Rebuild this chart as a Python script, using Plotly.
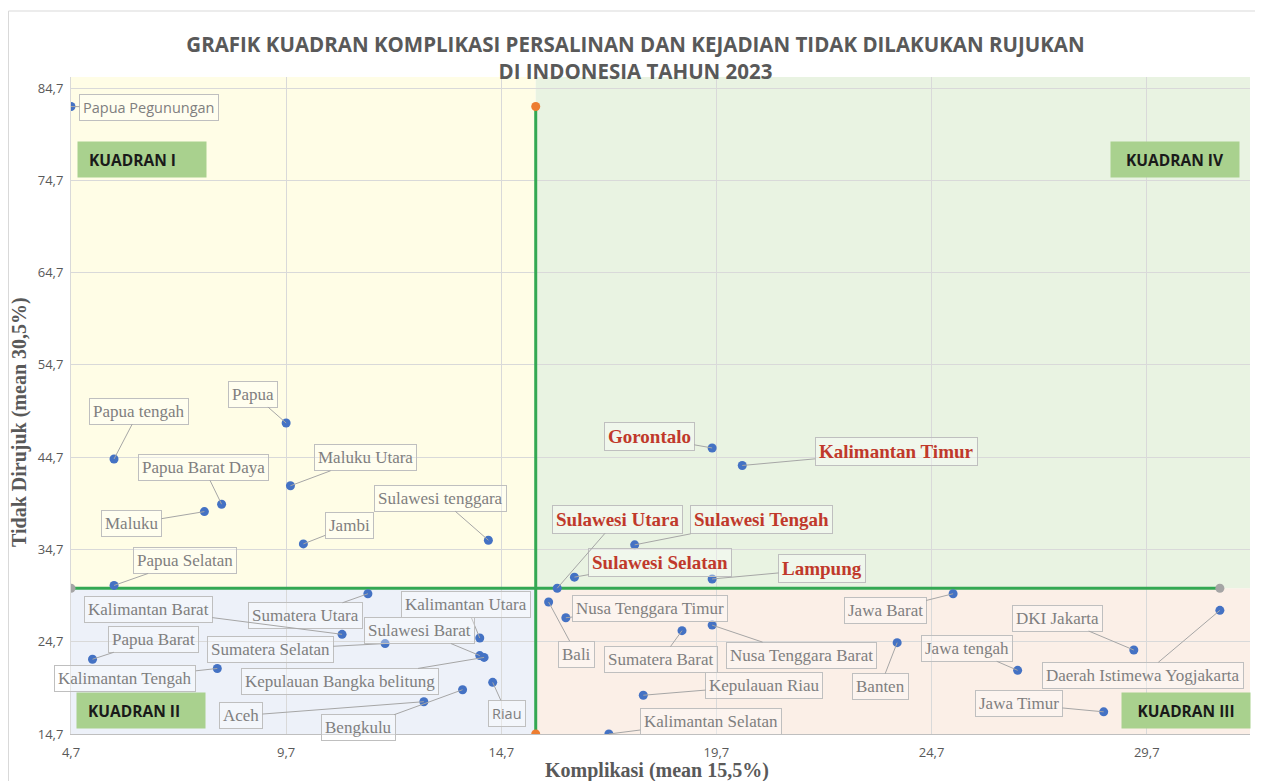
import plotly.graph_objects as go

# ---------------- data ----------------
provinsi = [
    "Papua Pegunungan", "Papua tengah", "Papua", "Maluku Utara", "Papua Barat Daya",
    "Maluku", "Jambi", "Sulawesi tenggara", "Papua Selatan", "Sumatera Utara",
    "Kalimantan Barat", "Sumatera Selatan", "Kalimantan Utara", "Sulawesi Barat",
    "Kepulauan Bangka belitung", "Riau", "Bengkulu", "Aceh", "Papua Barat",
    "Kalimantan Tengah", "Gorontalo", "Kalimantan Timur", "Sulawesi Tengah",
    "Sulawesi Selatan", "Lampung", "Sulawesi Utara", "Bali", "Nusa Tenggara Timur",
    "Sumatera Barat", "Nusa Tenggara Barat", "Jawa Barat", "Banten", "Kepulauan Riau",
    "Kalimantan Selatan", "Jawa tengah", "DKI Jakarta", "Daerah Istimewa Yogjakarta",
    "Jawa Timur",
]
komplikasi = [
    4.7, 5.7, 9.7, 9.8, 8.2,
    7.8, 10.1, 14.4, 5.7, 11.6,
    11.0, 12.0, 14.2, 14.2,
    14.3, 14.5, 13.8, 12.9, 5.2,
    8.1, 19.6, 20.3, 17.8,
    16.4, 19.6, 16.0, 15.8, 16.2,
    18.9, 19.6, 25.2, 23.9, 18.0,
    17.2, 26.7, 29.4, 31.4,
    28.7,
]
tidak_dirujuk = [
    82.7, 44.5, 48.4, 41.6, 39.6,
    38.8, 35.3, 35.7, 30.8, 29.9,
    25.5, 24.5, 25.1, 23.2,
    23.0, 20.3, 19.5, 18.2, 22.8,
    21.8, 45.7, 43.8, 35.2,
    31.7, 31.5, 30.5, 29.0, 27.3,
    25.9, 26.5, 29.9, 24.6, 18.9,
    14.7, 21.6, 23.8, 28.1,
    17.1,
]
mean_komplikasi = 15.5
mean_tidak_dirujuk = 30.5

x_ticks = [4.7, 9.7, 14.7, 19.7, 24.7, 29.7]
y_ticks = [14.7, 24.7, 34.7, 44.7, 54.7, 64.7, 74.7, 84.7]
x_ticklabels = ["4,7", "9,7", "14,7", "19,7", "24,7", "29,7"]
y_ticklabels = ["14,7", "24,7", "34,7", "44,7", "54,7", "64,7", "74,7", "84,7"]

title_text = ("GRAFIK KUADRAN KOMPLIKASI PERSALINAN DAN KEJADIAN TIDAK DILAKUKAN RUJUKAN"
              "<br>DI INDONESIA TAHUN 2023")
x_title = "Komplikasi (mean 15,5%)"
y_title = "Tidak Dirujuk (mean 30,5%)"
kuadran_names = ["KUADRAN I", "KUADRAN II", "KUADRAN III", "KUADRAN IV"]

# ---------------- layout helpers (label offsets in px, styling) ----------------
label_offset = {
    "Papua Pegunungan": (78, 1), "Papua tengah": (25, -48), "Papua": (-33, -29),
    "Maluku Utara": (75, -28), "Papua Barat Daya": (-18, -37), "Maluku": (-73, 12),
    "Jambi": (46, -18), "Sulawesi tenggara": (-48, -42), "Papua Selatan": (71, -25),
    "Sumatera Utara": (-62, 22), "Kalimantan Barat": (-194, -25),
    "Sumatera Selatan": (-115, 6), "Kalimantan Utara": (-14, -34),
    "Sulawesi Barat": (-60, -25), "Kepulauan Bangka belitung": (-144, 24),
    "Riau": (14, 31), "Bengkulu": (-104, 38), "Aceh": (-183, 14),
    "Papua Barat": (61, -20), "Kalimantan Tengah": (-92, 10),
    "Gorontalo": (-63, -11), "Kalimantan Timur": (154, -14),
    "Sulawesi Tengah": (127, -25), "Sulawesi Selatan": (86, -15),
    "Lampung": (110, -10), "Sulawesi Utara": (60, -69), "Bali": (28, 52),
    "Nusa Tenggara Timur": (84, -9), "Sumatera Barat": (-21, 29),
    "Nusa Tenggara Barat": (89, 30), "Jawa Barat": (-68, 17), "Banten": (-17, 44),
    "Kepulauan Riau": (121, -10), "Kalimantan Selatan": (102, -13),
    "Jawa tengah": (-51, -22), "DKI Jakarta": (-76, -32),
    "Daerah Istimewa Yogjakarta": (-77, 65), "Jawa Timur": (-85, -8),
}
sans_labels = {"Papua Pegunungan", "Riau"}

# page has an 8px body margin -> figure is 8px smaller than the window
X_RANGE = [4.7, 32.1]
Y_RANGE = [14.7, 85.9]
W, H = 1255, 773
L, R, T, B = 63, 13, 69, 47
PW, PH = W - L - R, H - T - B

def px_to_paper_x(page_px):
    return (page_px - 8 - L) / PW

def px_to_paper_y(page_py):
    return (H - B - (page_py - 8)) / PH

GRAY_TXT = "#7f7f7f"
RED_TXT = "#C0392B"
GREEN = "#34A853"

fig = go.Figure()

x_min, x_max = X_RANGE
y_min, y_max = Y_RANGE
shapes = [
    dict(type="rect", xref="x", yref="y", x0=x_min, x1=mean_komplikasi,
         y0=mean_tidak_dirujuk, y1=y_max, fillcolor="#FFFDE6", line_width=0, layer="below"),
    dict(type="rect", xref="x", yref="y", x0=x_min, x1=mean_komplikasi,
         y0=y_min, y1=mean_tidak_dirujuk, fillcolor="#EDF1F9", line_width=0, layer="below"),
    dict(type="rect", xref="x", yref="y", x0=mean_komplikasi, x1=x_max,
         y0=y_min, y1=mean_tidak_dirujuk, fillcolor="#FBEFE7", line_width=0, layer="below"),
    dict(type="rect", xref="x", yref="y", x0=mean_komplikasi, x1=x_max,
         y0=mean_tidak_dirujuk, y1=y_max, fillcolor="#E9F3E2", line_width=0, layer="below"),
    dict(type="rect", xref="paper", yref="paper",
         x0=px_to_paper_x(8.5), x1=px_to_paper_x(1275),
         y0=px_to_paper_y(800), y1=px_to_paper_y(11),
         line=dict(color="#d9d9d9", width=1), fillcolor="rgba(0,0,0,0)", layer="below"),
]

# mean lines spanning the data extents
fig.add_trace(go.Scatter(
    x=[mean_komplikasi, mean_komplikasi], y=[min(tidak_dirujuk), max(tidak_dirujuk)],
    mode="lines+markers", line=dict(color=GREEN, width=3),
    marker=dict(color="#ED7D31", size=9), hoverinfo="skip", showlegend=False))
fig.add_trace(go.Scatter(
    x=[min(komplikasi), max(komplikasi)], y=[mean_tidak_dirujuk, mean_tidak_dirujuk],
    mode="lines+markers", line=dict(color=GREEN, width=3),
    marker=dict(color="#A5A5A5", size=9), hoverinfo="skip", showlegend=False))

fig.add_trace(go.Scatter(
    x=komplikasi, y=tidak_dirujuk, mode="markers", text=provinsi,
    marker=dict(color="#4472C4", size=9), showlegend=False,
    hovertemplate="%{text}<br>Komplikasi: %{x}<br>Tidak dirujuk: %{y}<extra></extra>"))

annotations = []
for name, xv, yv in zip(provinsi, komplikasi, tidak_dirujuk):
    ax, ay = label_offset[name]
    red = xv >= mean_komplikasi and yv >= mean_tidak_dirujuk
    if name in sans_labels:
        font = dict(family="Open Sans, Liberation Sans, sans-serif", size=14.5, color=GRAY_TXT)
    elif red:
        font = dict(family="Liberation Serif, serif", size=19, color=RED_TXT, weight="bold")
    else:
        font = dict(family="Liberation Serif, serif", size=17, color=GRAY_TXT)
    annotations.append(dict(
        x=xv, y=yv, xref="x", yref="y", text=name, showarrow=True,
        ax=ax, ay=ay, arrowhead=0, arrowwidth=1, arrowcolor="#a6a6a6", standoff=0,
        font=font, bordercolor="#bfbfbf", borderwidth=1, borderpad=3,
        bgcolor="rgba(255,255,255,0.35)"))

kuadran_pos = {"KUADRAN I": (142, 159.5), "KUADRAN II": (141, 710.5),
               "KUADRAN III": (1186, 710), "KUADRAN IV": (1175, 159.5)}
for k in kuadran_names:
    cx, cy = kuadran_pos[k]
    left = k in ("KUADRAN I", "KUADRAN II")
    annotations.append(dict(
        x=px_to_paper_x(cx), y=px_to_paper_y(cy), xref="paper", yref="paper",
        xanchor="center", yanchor="middle",
        text=("&nbsp;&nbsp;" + k) if left else k, showarrow=False,
        width=122, height=29, bgcolor="#A9D18E",
        borderpad=3, align="left" if left else "center",
        font=dict(family="Open Sans, sans-serif", size=15.5, color="#1a1a1a", weight="bold")))

annotations.append(dict(
    x=px_to_paper_x(657), y=px_to_paper_y(770), xref="paper", yref="paper",
    xanchor="center", yanchor="middle",
    text=x_title, showarrow=False,
    font=dict(family="Liberation Serif, serif", size=20, color="#595959", weight="bold")))
annotations.append(dict(
    x=px_to_paper_x(19), y=px_to_paper_y(422), xref="paper", yref="paper",
    xanchor="center", yanchor="middle",
    text=y_title, showarrow=False, textangle=-90,
    font=dict(family="Liberation Serif, serif", size=20, color="#595959", weight="bold")))

fig.update_layout(
    width=W, height=H,
    margin=dict(l=L, r=R, t=T, b=B),
    paper_bgcolor="white", plot_bgcolor="white",
    title=dict(text=title_text, x=0.5, xref="container", xanchor="center",
               y=1 - 44 / H, yref="container", yanchor="middle",
               font=dict(family="Open Sans, sans-serif", size=20.5, color="#595959",
                         weight="bold")),
    shapes=shapes, annotations=annotations,
)
fig.update_xaxes(range=X_RANGE, tickvals=x_ticks, ticktext=x_ticklabels,
                 showgrid=True, gridcolor="#d9d9d9", gridwidth=1, zeroline=False,
                 showline=True, linecolor="#bfbfbf", ticks="", ticklabelstandoff=6,
                 tickfont=dict(family="Open Sans, sans-serif", size=13, color="#595959"))
fig.update_yaxes(range=Y_RANGE, tickvals=y_ticks, ticktext=y_ticklabels,
                 showgrid=True, gridcolor="#d9d9d9", gridwidth=1, zeroline=False,
                 showline=True, linecolor="#d9d9d9", ticks="", ticklabelstandoff=4,
                 tickfont=dict(family="Open Sans, sans-serif", size=13, color="#595959"))

fig.write_html("out.html")
